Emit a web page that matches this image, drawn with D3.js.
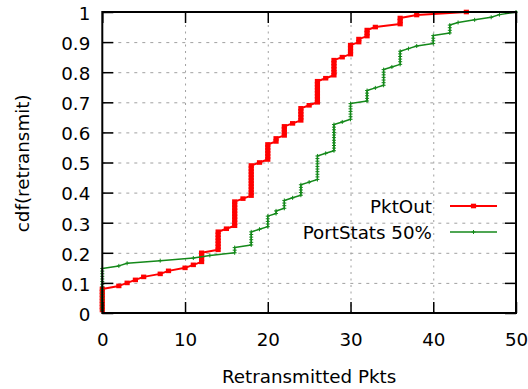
<!DOCTYPE html>
<html><head><meta charset="utf-8">
<script src="https://cdn.jsdelivr.net/npm/d3@7"></script>
<style>
body{margin:0;background:#fff}
text{font-family:"DejaVu Sans",sans-serif;fill:#000}
</style>
</head><body>
<svg id="chart" width="528" height="389"></svg>
<script>
// ---- data ----
const seriesNames = ["PktOut", "PortStats 50%"];
// PktOut: distinct retransmission counts and number of samples at each
const pktOutX     = [0, 2, 3, 4, 5, 7, 8, 10, 11, 12, 14, 15, 16, 17, 18, 19, 20, 21, 22, 23, 24, 25, 26, 27, 28, 29, 30, 31, 32, 33, 36, 38, 44];
const pktOutCount = [8, 1, 1, 1, 1, 1, 1, 1,  1,  4,  7,  1,  9,  1,  11, 1,  6,  2,  4,  1,  5,  1,  8,  1,  6,  1,  4,  2,  3,  1,  3,  1,  1];
// PortStats 50%
const portStatsX     = [0, 2, 3, 7, 11, 13, 16, 18, 19, 20, 21, 22, 23, 24, 25, 26, 27, 28, 29, 30, 32, 33, 34, 35, 36, 37, 38, 40, 42, 43, 45, 47, 48, 50];
const portStatsCount = [17, 1, 1, 1, 1, 1, 3,  6,  1,  5,  2,  4,  1,  5,  1,  10, 1,  11, 1,  7,  5,  1,  7,  1,  6,  1,  1,  4,  4,  1,  1,  1,  1,  1];
const xTicks = [0, 10, 20, 30, 40, 50];
const yTicks = [0, 0.1, 0.2, 0.3, 0.4, 0.5, 0.6, 0.7, 0.8, 0.9, 1];
const xLabel = "Retransmitted Pkts";
const yLabel = "cdf(retransmit)";

// ---- build cumulative points ----
function cdfPoints(xs, counts) {
  const total = d3.sum(counts);
  const pts = [];
  let cum = 0;
  xs.forEach((x, i) => {
    for (let k = 0; k < counts[i]; k++) { cum++; pts.push([x, cum / total]); }
  });
  return pts;
}
const redPts = cdfPoints(pktOutX, pktOutCount);
const greenPts = cdfPoints(portStatsX, portStatsCount);

// ---- layout ----
const L = 102.3, R = 516, T = 12, B = 313;
const FS = 18.3;
const RED = "#ff0000", GREEN = "#14891a";

const svg = d3.select("#chart");
const x = d3.scaleLinear().domain([0, 50]).range([L, R]);
const y = d3.scaleLinear().domain([0, 1]).range([B, T]);

// grid
const gx = svg.append("g").attr("transform", `translate(0,${B})`)
  .call(d3.axisBottom(x).tickValues(xTicks.slice(1, -1)).tickSize(-(B - T)).tickFormat(""));
gx.select(".domain").remove();
gx.selectAll("line").attr("stroke", "#a0a0a0").attr("stroke-width", 1).attr("stroke-dasharray", "2,4.5");
const gy = svg.append("g").attr("transform", `translate(${L},0)`)
  .call(d3.axisLeft(y).tickValues(yTicks.slice(1, -1)).tickSize(-(R - L)).tickFormat(""));
gy.select(".domain").remove();
gy.selectAll("line").attr("stroke", "#a0a0a0").attr("stroke-width", 1).attr("stroke-dasharray", "3,5");

// series
const line = d3.line().x(d => x(d[0])).y(d => y(d[1]));
svg.append("path").datum(redPts).attr("d", line)
  .attr("fill", "none").attr("stroke", RED).attr("stroke-width", 2).attr("stroke-linejoin", "round");
svg.append("g").selectAll("rect").data(redPts).join("rect")
  .attr("x", d => x(d[0]) - 2.6).attr("y", d => y(d[1]) - 2.3)
  .attr("width", 5.2).attr("height", 4.6).attr("fill", RED);

svg.append("path").datum(greenPts).attr("d", line)
  .attr("fill", "none").attr("stroke", GREEN).attr("stroke-width", 1.5).attr("stroke-linejoin", "round");
const plus = (cx, cy, s) => `M${cx - s},${cy}H${cx + s}M${cx},${cy - s}V${cy + s}`;
svg.append("g").selectAll("path").data(greenPts).join("path")
  .attr("d", d => plus(x(d[0]), y(d[1]), 2))
  .attr("stroke", GREEN).attr("stroke-width", 1).attr("fill", "none");

// axes (ticks inward, mirrored)
const TK = 11;
function styleAxis(g) {
  g.select(".domain").remove();
  g.selectAll(".tick line").attr("stroke", "#000").attr("stroke-width", 1.5);
  g.selectAll("text").style("font-size", FS + "px").attr("fill", "#000");
}
const fmtY = d => (d === 0 || d === 1) ? String(d) : d3.format(".1f")(d);
svg.append("g").attr("transform", `translate(0,${B})`)
  .call(d3.axisBottom(x).tickValues(xTicks).tickSize(-TK).tickPadding(20.5).tickFormat(d3.format("d")))
  .call(styleAxis);
svg.append("g").attr("transform", `translate(0,${T})`)
  .call(d3.axisTop(x).tickValues(xTicks).tickSize(-TK).tickFormat(""))
  .call(styleAxis);
const ly = svg.append("g").attr("transform", `translate(${L},0)`)
  .call(d3.axisLeft(y).tickValues(yTicks).tickSize(-TK).tickPadding(12).tickFormat(fmtY))
  .call(styleAxis);
ly.selectAll("text").attr("dy", "0.4em");
svg.append("g").attr("transform", `translate(${R},0)`)
  .call(d3.axisRight(y).tickValues(yTicks).tickSize(-TK).tickFormat(""))
  .call(styleAxis);

// frame
svg.append("rect").attr("x", L).attr("y", T).attr("width", R - L).attr("height", B - T)
  .attr("fill", "none").attr("stroke", "#000").attr("stroke-width", 2);

// axis labels
svg.append("text").attr("x", (L + R) / 2).attr("y", 383).attr("text-anchor", "middle")
  .style("font-size", FS + "px").text(xLabel);
svg.append("text").attr("transform", `translate(28.5,${163.3}) rotate(-90)`).attr("text-anchor", "middle")
  .style("font-size", FS + "px").text(yLabel);

// legend
const legend = [
  { name: seriesNames[0], color: RED, y: 206, kind: "sq" },
  { name: seriesNames[1], color: GREEN, y: 232, kind: "plus" }
];
const lg = svg.append("g");
legend.forEach(it => {
  lg.append("text").attr("x", 432).attr("y", it.y).attr("dy", "0.36em").attr("text-anchor", "end")
    .style("font-size", FS + "px").text(it.name);
  lg.append("line").attr("x1", 450).attr("x2", 497).attr("y1", it.y).attr("y2", it.y)
    .attr("stroke", it.color).attr("stroke-width", it.kind === "sq" ? 2 : 1.5);
  if (it.kind === "sq") {
    lg.append("rect").attr("x", 473.5 - 2.6).attr("y", it.y - 2.3).attr("width", 5.2).attr("height", 4.6).attr("fill", it.color);
  } else {
    lg.append("path").attr("d", plus(473.5, it.y, 2)).attr("stroke", it.color).attr("stroke-width", 1);
  }
});
</script>
</body></html>
